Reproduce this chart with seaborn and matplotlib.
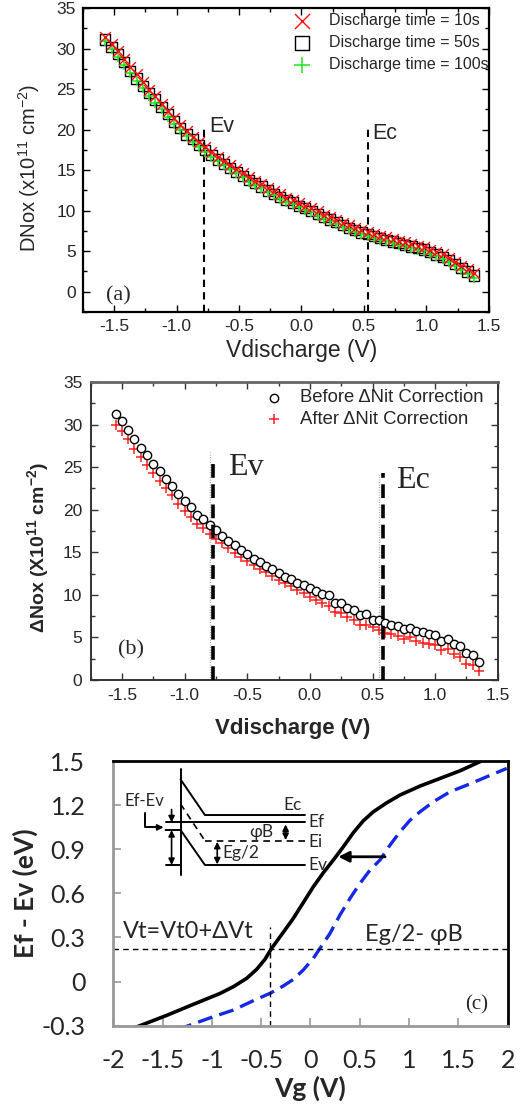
import numpy as np
import pandas as pd
import matplotlib
matplotlib.use("Agg")
import matplotlib.pyplot as plt
from matplotlib.ticker import MultipleLocator
import seaborn as sns

# ---------------------------------------------------------------------------
# Data
# ---------------------------------------------------------------------------

# (a) DNox vs Vdischarge for three discharge times
V_A = [-1.57, -1.52, -1.47, -1.42, -1.37, -1.32, -1.27, -1.22, -1.17, -1.12,
       -1.07, -1.02, -0.97, -0.92, -0.87, -0.82, -0.77, -0.72, -0.67, -0.62,
       -0.57, -0.52, -0.47, -0.42, -0.37, -0.32, -0.27, -0.22, -0.17, -0.12,
       -0.07, -0.02, 0.03, 0.08, 0.13, 0.18, 0.23, 0.28, 0.33, 0.38,
       0.43, 0.48, 0.53, 0.58, 0.63, 0.68, 0.73, 0.78, 0.83, 0.88,
       0.93, 0.98, 1.03, 1.08, 1.13, 1.18, 1.23, 1.28, 1.33, 1.38]
DNOX_10S = [31.4, 30.6, 29.7, 28.7, 27.7, 26.8, 25.9, 24.9, 24.1, 23.2,
            22.3, 21.4, 20.6, 19.8, 19.1, 18.5, 17.8, 17.2, 16.6, 16.1,
            15.6, 15.1, 14.6, 14.1, 13.7, 13.3, 12.8, 12.4, 12.0, 11.6,
            11.3, 10.9, 10.6, 10.3, 9.9, 9.5, 9.2, 8.9, 8.5, 8.2,
            7.9, 7.6, 7.4, 7.1, 6.9, 6.7, 6.5, 6.3, 6.1, 5.9,
            5.7, 5.5, 5.2, 4.9, 4.6, 4.2, 3.7, 3.2, 2.8, 2.3]
DNOX_50S = [31.1, 30.2, 29.3, 28.3, 27.2, 26.3, 25.4, 24.5, 23.7, 22.8,
            21.9, 21.0, 20.2, 19.4, 18.8, 18.1, 17.5, 16.9, 16.3, 15.8,
            15.3, 14.8, 14.3, 13.8, 13.4, 13.0, 12.5, 12.1, 11.7, 11.3,
            11.0, 10.6, 10.3, 10.0, 9.6, 9.2, 8.9, 8.6, 8.2, 7.9,
            7.6, 7.3, 7.1, 6.9, 6.6, 6.4, 6.2, 6.0, 5.8, 5.6,
            5.4, 5.2, 4.9, 4.6, 4.3, 3.9, 3.4, 2.9, 2.5, 2.0]
DNOX_100S = [30.9, 30.0, 29.0, 28.0, 27.0, 26.0, 25.1, 24.2, 23.3, 22.5,
             21.6, 20.7, 19.9, 19.2, 18.5, 17.9, 17.2, 16.6, 16.1, 15.6,
             15.1, 14.6, 14.1, 13.6, 13.2, 12.8, 12.3, 11.9, 11.5, 11.1,
             10.8, 10.4, 10.1, 9.8, 9.4, 9.0, 8.7, 8.4, 8.0, 7.7,
             7.4, 7.1, 6.9, 6.6, 6.4, 6.2, 6.0, 5.8, 5.6, 5.4,
             5.2, 5.0, 4.7, 4.4, 4.1, 3.7, 3.2, 2.7, 2.2, 1.7]
LABELS_A = ["Discharge time = 10s", "Discharge time = 50s", "Discharge time = 100s"]

# (b) Delta Nox before / after the Nit correction
V_B = [-1.55, -1.50, -1.45, -1.40, -1.35, -1.30, -1.25, -1.20, -1.15, -1.10,
       -1.05, -1.00, -0.95, -0.90, -0.85, -0.80, -0.75, -0.70, -0.65, -0.60,
       -0.55, -0.50, -0.45, -0.40, -0.35, -0.30, -0.25, -0.20, -0.15, -0.10,
       -0.05, 0.00, 0.05, 0.10, 0.15, 0.20, 0.25, 0.30, 0.35, 0.40,
       0.45, 0.50, 0.55, 0.60, 0.65, 0.70, 0.75, 0.80, 0.85, 0.90,
       0.95, 1.00, 1.05, 1.10, 1.15, 1.20, 1.25, 1.30, 1.35]
NOX_BEFORE = [31.2, 30.4, 29.4, 28.3, 27.3, 26.4, 25.4, 24.5, 23.6, 22.8,
              21.9, 21.0, 20.3, 19.4, 18.9, 18.2, 17.6, 16.9, 16.3, 15.9,
              15.3, 14.8, 14.25, 13.8, 13.4, 13.0, 12.6, 12.1, 11.9, 11.35,
              11.2, 10.8, 10.4, 10.1, 10.0, 9.1, 9.1, 8.5, 8.2, 7.6,
              7.7, 7.1, 7.0, 6.7, 6.4, 6.3, 5.95, 6.15, 5.7, 5.6,
              5.4, 5.3, 4.6, 4.8, 4.2, 4.0, 3.2, 2.9, 2.15]
NOX_AFTER = [30.0, 29.2, 28.3, 27.1, 26.2, 25.3, 24.3, 23.4, 22.6, 21.7,
             20.7, 19.9, 19.2, 18.3, 17.9, 17.1, 16.6, 16.05, 15.5, 14.95,
             14.5, 14.0, 13.5, 13.0, 12.65, 12.2, 11.8, 11.35, 11.0, 10.6,
             10.2, 9.7, 9.4, 9.0, 8.7, 7.95, 7.9, 7.45, 7.1, 6.45,
             6.45, 6.2, 5.9, 5.55, 5.4, 5.2, 4.8, 5.0, 4.6, 4.4,
             4.2, 4.1, 3.5, 3.6, 3.1, 2.7, 1.9, 1.8, 1.0]
LABELS_B = ["Before \u0394Nit Correction", "After \u0394Nit Correction"]

# (c) Ef - Ev vs Vg: shifted (solid) and fresh (dashed) curves
VG_SOLID = [-1.85, -1.729, -1.459, -1.189, -0.918, -0.783, -0.647, -0.546, -0.462,
            -0.394, -0.276, -0.174, -0.073, 0.029, 0.130, 0.232, 0.333, 0.435,
            0.536, 0.637, 0.773, 0.908, 1.111, 1.314, 1.517, 1.719, 1.95]
EF_SOLID = [-0.33, -0.300, -0.230, -0.155, -0.081, -0.035, 0.022, 0.083, 0.151,
            0.226, 0.335, 0.430, 0.537, 0.645, 0.740, 0.827, 0.917, 1.013,
            1.094, 1.155, 1.216, 1.269, 1.330, 1.382, 1.434, 1.496, 1.56]
VG_DASHED = [-1.35, -1.239, -0.986, -0.783, -0.580, -0.411, -0.276, -0.174, -0.073,
             0.029, 0.096, 0.198, 0.299, 0.401, 0.502, 0.604, 0.705, 0.807,
             0.908, 1.010, 1.111, 1.246, 1.415, 1.584, 1.787, 1.990]
EF_DASHED = [-0.33, -0.300, -0.239, -0.194, -0.130, -0.080, -0.030, 0.015, 0.079,
             0.158, 0.226, 0.328, 0.453, 0.566, 0.668, 0.759, 0.827, 0.929,
             1.019, 1.098, 1.155, 1.223, 1.291, 1.336, 1.393, 1.450]
VT_SHIFTED = -0.41      # threshold voltage marker
EG2_MINUS_PHIB = 0.22   # Ef - Ev at threshold

# ---------------------------------------------------------------------------
# Style
# ---------------------------------------------------------------------------
sns.set_theme(style="ticks")
plt.rcParams["font.family"] = ["Liberation Sans", "DejaVu Sans"]
plt.rcParams["mathtext.fontset"] = "custom"
plt.rcParams["mathtext.rm"] = "Liberation Sans"
plt.rcParams["mathtext.bf"] = "Liberation Sans:bold"
plt.rcParams["xtick.direction"] = "in"
plt.rcParams["ytick.direction"] = "in"

fig = plt.figure(figsize=(5.24, 11.12), dpi=100)
ax_a = fig.add_axes([0.158, 0.7194, 0.775, 0.2734])
ax_b = fig.add_axes([0.173, 0.3885, 0.777, 0.268])
ax_c = fig.add_axes([0.216, 0.0776, 0.753, 0.238])

SERIF = ["Liberation Serif", "DejaVu Serif"]
CAL = ["Lato", "DejaVu Sans"]
V_TICKS = [-1.5, -1.0, -0.5, 0.0, 0.5, 1.0, 1.5]
V_TICKLABELS = ["-1.5", "-1.0", "-0.5", "0.0", "0.5", "1.0", "1.5"]

# ---------------------------------------------------------------------------
# (a)
# ---------------------------------------------------------------------------
ax = ax_a
sns.scatterplot(x=V_A, y=DNOX_50S, ax=ax, marker="s", s=55, facecolors="none",
                edgecolor="black", linewidth=1.0, label=LABELS_A[1], zorder=3)
sns.scatterplot(x=V_A, y=DNOX_100S, ax=ax, marker="+", s=60, color="#1ee61e",
                linewidth=1.1, label=LABELS_A[2], zorder=4)
sns.scatterplot(x=V_A, y=DNOX_10S, ax=ax, marker="x", s=60, color="#ff1010",
                linewidth=1.0, label=LABELS_A[0], zorder=5)
ax.plot([-0.78, -0.78], [-2.5, 20.5], ls=(0, (3.5, 2.5)), color="black", lw=1.5)
ax.plot([0.53, 0.53], [-2.5, 20.5], ls=(0, (3.5, 2.5)), color="black", lw=1.5)
ax.text(-0.735, 20.4, "Ev", fontsize=15.5, va="center", ha="left")
ax.text(0.568, 19.5, "Ec", fontsize=15.5, va="center", ha="left")
ax.text(-1.468, -0.45, "(a)", fontsize=16, va="center", ha="center", family=SERIF)

ax.set_xlim(-1.75, 1.5)
ax.set_ylim(-2.5, 35)
ax.set_xticks(V_TICKS)
ax.set_xticklabels(V_TICKLABELS)
ax.xaxis.set_minor_locator(MultipleLocator(0.25))
ax.yaxis.set_major_locator(MultipleLocator(5))
ax.yaxis.set_minor_locator(MultipleLocator(2.5))
ax.tick_params(which="both", top=True, right=True, labelsize=12.5, width=1.0,
               color="black")
ax.tick_params(which="major", length=5, pad=5)
ax.tick_params(which="minor", length=3)
for sp in ax.spines.values():
    sp.set_linewidth(1.6)
    sp.set_color("black")
ax.set_xlabel("Vdischarge (V)", fontsize=16.5)
ax.set_ylabel("DNox (x10$^{11}$ cm$^{-2}$)", fontsize=14.5)
ax.xaxis.set_label_coords(0.539, -0.09)
ax.yaxis.set_label_coords(-0.1, 0.474)
handles, labels = ax.get_legend_handles_labels()
order = [labels.index(l) for l in LABELS_A]
ax.legend([handles[i] for i in order], [labels[i] for i in order],
          loc="upper left", bbox_to_anchor=(0.50, 1.005), frameon=False,
          fontsize=11.5, markerscale=1.4, handlelength=1.2, handletextpad=1.1,
          labelspacing=0.45, borderaxespad=0.0)

# ---------------------------------------------------------------------------
# (b)
# ---------------------------------------------------------------------------
ax = ax_b
sns.scatterplot(x=V_B, y=NOX_BEFORE, ax=ax, marker="o", s=36, facecolors="white",
                edgecolor="black", linewidth=1.0, label=LABELS_B[0], zorder=4)
sns.scatterplot(x=V_B, y=NOX_AFTER, ax=ax, marker="+", s=48, color="#ff2020",
                linewidth=1.1, label=LABELS_B[1], zorder=3)
ax.plot([-0.796, -0.796], [0, 26.8], ls=(0, (0.6, 1.2)), color="#999999", lw=1.0)
ax.plot([0.552, 0.552], [0, 24.3], ls=(0, (0.6, 1.2)), color="#999999", lw=1.0)
ax.plot([-0.777, -0.777], [0, 25.5], ls=(0, (3.8, 1.8)), color="black", lw=2.6,
        zorder=5)
ax.plot([0.584, 0.584], [0, 24.3], ls=(0, (3.8, 1.8)), color="black", lw=2.6,
        zorder=5)
ax.text(-0.656, 24.9, "Ev", fontsize=23, va="center", ha="left", family=SERIF)
ax.text(0.685, 23.4, "Ec", fontsize=23, va="center", ha="left", family=SERIF)
ax.text(-1.428, 3.5, "(b)", fontsize=16, va="center", ha="center", family=SERIF)

ax.set_xlim(-1.75, 1.5)
ax.set_ylim(0, 35)
ax.set_xticks(V_TICKS)
ax.set_xticklabels(V_TICKLABELS)
ax.xaxis.set_minor_locator(MultipleLocator(0.25))
ax.yaxis.set_major_locator(MultipleLocator(5))
ax.yaxis.set_minor_locator(MultipleLocator(2.5))
ax.tick_params(which="both", top=True, right=True, labelsize=12.5, width=1.0,
               color="#333333")
ax.tick_params(which="major", length=5, pad=6)
ax.tick_params(which="minor", length=3)
for sp in ax.spines.values():
    sp.set_linewidth(1.4)
    sp.set_color("#333333")
ax.spines["top"].set_color("#666666")
ax.spines["top"].set_linewidth(2.0)
ax.set_xlabel("Vdischarge (V)", fontsize=16, fontweight="bold")
ax.set_ylabel("\u0394Nox (X10$^{\\mathbf{11}}$ cm$^{\\mathbf{-2}}$)", fontsize=14,
              fontweight="bold")
ax.xaxis.set_label_coords(0.497, -0.128)
ax.yaxis.set_label_coords(-0.095, 0.443)
ax.legend(loc="upper left", bbox_to_anchor=(0.405, 1.0), frameon=False,
          fontsize=13.3, markerscale=1.0, handlelength=1.2, handletextpad=0.8,
          labelspacing=0.25, borderaxespad=0.0)

# ---------------------------------------------------------------------------
# (c)
# ---------------------------------------------------------------------------
ax = ax_c
sns.lineplot(x=VG_SOLID, y=EF_SOLID, ax=ax, color="black", lw=2.6, sort=False,
             estimator=None)
sns.lineplot(x=VG_DASHED, y=EF_DASHED, ax=ax, color="#1428e6", lw=2.4, sort=False,
             estimator=None, dashes=False, ls=(0, (4.5, 2.2)))
ax.axhline(EG2_MINUS_PHIB, color="black", lw=1.0, ls=(0, (4, 3)))
ax.plot([VT_SHIFTED, VT_SHIFTED], [-0.3, 0.373], color="black", lw=1.0,
        ls=(0, (4, 3)))
ax.annotate("", xy=(0.282, 0.849), xytext=(0.756, 0.849),
            arrowprops=dict(arrowstyle="-|>", color="black", lw=2.0,
                            mutation_scale=16, shrinkA=0, shrinkB=0))
ax.text(-1.905, 0.344, "Vt=Vt0+\u0394Vt", fontsize=17, va="center", ha="left",
        family=CAL)
ax.text(0.553, 0.317, "Eg/2- \u03c6B", fontsize=17, va="center", ha="left",
        family=CAL)
ax.text(1.686, -0.159, "(c)", fontsize=15, va="center", ha="center", family=SERIF)

# inset band diagram
lk = dict(color="black", lw=1.4)
ax.plot([-1.317, -1.317], [0.725, 1.443], **lk)
ax.plot([-1.317, -1.070, -0.056], [1.375, 1.133, 1.133], **lk)
ax.plot([-1.469, -0.056], [1.083, 1.083], **lk)
ax.plot([-1.317, -1.070], [1.208, 0.958], color="black", lw=1.2, ls=(0, (4, 3)))
ax.plot([-1.070, -0.056], [0.958, 0.958], color="black", lw=1.2, ls=(0, (4, 3)))
ax.plot([-1.469, -1.317, -1.070, -0.056], [1.031, 1.031, 0.793, 0.793], **lk)
ax.plot([-1.469, -1.317], [0.793, 0.793], **lk)
arr = dict(arrowstyle="-|>", color="black", lw=1.2, mutation_scale=9,
           shrinkA=0, shrinkB=0)
darr = dict(arrowstyle="<|-|>", color="black", lw=1.2, mutation_scale=9,
            shrinkA=0, shrinkB=0)
ax.annotate("", xy=(-1.408, 1.083), xytext=(-1.408, 1.170), arrowprops=arr)
ax.annotate("", xy=(-1.408, 0.793), xytext=(-1.408, 1.031), arrowprops=darr)
ax.annotate("", xy=(-0.252, 0.963), xytext=(-0.252, 1.069), arrowprops=darr)
ax.annotate("", xy=(-0.945, 0.797), xytext=(-0.945, 0.951), arrowprops=darr)
ax.plot([-1.679, -1.679, -1.52], [1.144, 1.049, 1.049], **lk)
ax.annotate("", xy=(-1.49, 1.049), xytext=(-1.53, 1.049), arrowprops=arr)
ax.text(-1.882, 1.228, "Ef-Ev", fontsize=12, va="center", ha="left", family=CAL)
ax.text(-0.090, 1.201, "Ec", fontsize=12.5, va="center", ha="right", family=CAL)
ax.text(-0.022, 1.083, "Ef", fontsize=12.5, va="center", ha="left", family=CAL)
ax.text(-0.022, 0.951, "Ei", fontsize=12.5, va="center", ha="left", family=CAL)
ax.text(-0.022, 0.793, "Ev", fontsize=12.5, va="center", ha="left", family=CAL)
ax.text(-0.495, 1.019, "\u03c6B", fontsize=12.5, va="center", ha="center", family=CAL)
ax.text(-0.891, 0.872, "Eg/2", fontsize=12.5, va="center", ha="left", family=CAL)

ax.set_xlim(-2, 2)
ax.set_ylim(-0.3, 1.5)
ax.set_xticks([-2, -1.5, -1, -0.5, 0, 0.5, 1, 1.5, 2])
ax.set_xticklabels(["-2", "-1.5", "-1", "-0.5", "0", "0.5", "1", "1.5", "2"],
                   family=CAL)
ax.set_yticks([-0.3, 0, 0.3, 0.6, 0.9, 1.2, 1.5])
ax.set_yticklabels(["-0.3", "0", "0.3", "0.6", "0.9", "1.2", "1.5"], family=CAL)
ax.tick_params(which="major", labelsize=18, length=6, width=1.2, color="#999999")
ax.tick_params(axis="x", pad=17)
ax.tick_params(axis="y", pad=20)
for side in ["left", "bottom"]:
    ax.spines[side].set_color("#999999")
    ax.spines[side].set_linewidth(2.0)
for side in ["top", "right"]:
    ax.spines[side].set_color("black")
    ax.spines[side].set_linewidth(2.0)
ax.set_xlabel("Vg (V)", fontsize=19, fontweight="bold", family=CAL)
ax.set_ylabel("Ef - Ev (eV)", fontsize=19, fontweight="bold", family=CAL)
ax.xaxis.set_label_coords(0.499, -0.19)
ax.yaxis.set_label_coords(-0.19, 0.5)

fig.savefig("out.png", dpi=100)
